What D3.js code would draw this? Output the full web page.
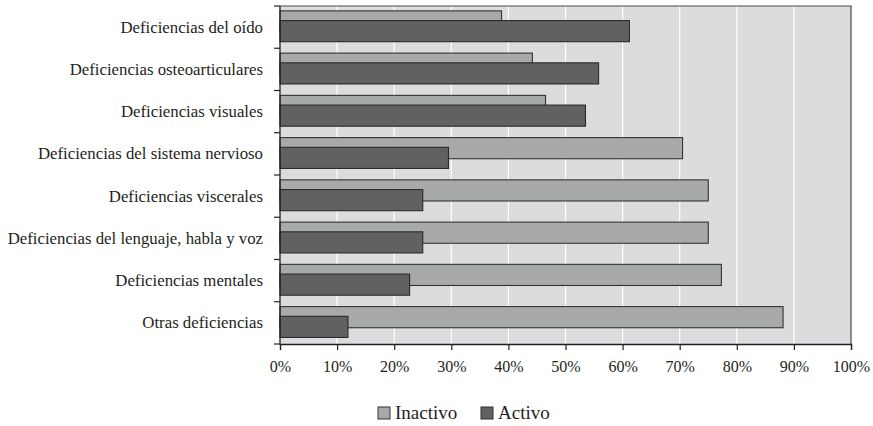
<!DOCTYPE html>
<html><head><meta charset="utf-8">
<script src="https://cdn.jsdelivr.net/npm/d3@7"></script>
<style>body{margin:0;background:#fff}svg{display:block}text{font-family:"Liberation Serif","Times New Roman",serif;fill:#231f20}</style>
</head><body><svg id="c" width="873" height="426"></svg>
<script>
const categories = ["Deficiencias del oído","Deficiencias osteoarticulares","Deficiencias visuales","Deficiencias del sistema nervioso","Deficiencias viscerales","Deficiencias del lenguaje, habla y voz","Deficiencias mentales","Otras deficiencias"];
const inactivo = [38.8, 44.2, 46.5, 70.5, 75.0, 75.0, 77.3, 88.1];
const activo = [61.2, 55.8, 53.5, 29.5, 25.0, 25.0, 22.7, 11.9];
const xTicks = [0,10,20,30,40,50,60,70,80,90,100];
const seriesNames = ["Inactivo","Activo"];

const svg = d3.select("#c");
const m = {l:280, r:851, t:6, b:344};
const x = d3.scaleLinear().domain([0,100]).range([m.l, m.r]);
const y = d3.scaleBand().domain(categories).range([m.t, m.b]);
const colors = {Inactivo:"#a8a9ab", Activo:"#616163"};
const FF = '"Liberation Serif","Times New Roman",serif';

svg.append("rect").attr("x",m.l).attr("y",m.t).attr("width",m.r-m.l).attr("height",m.b-m.t).attr("fill","#dcdcde");
svg.append("g").selectAll("line").data(xTicks.slice(1,-1)).join("line")
  .attr("x1",d=>x(d)).attr("x2",d=>x(d)).attr("y1",m.t).attr("y2",m.b)
  .attr("stroke","#fff").attr("stroke-width",1.2);
svg.append("path").attr("d",`M${m.l},${m.t}H${m.r}V${m.b}`).attr("fill","none").attr("stroke","#4a4a4c").attr("stroke-width",1.2);

const bw = y.bandwidth();
const bh = bw*0.5;
svg.append("g").selectAll("rect").data(categories).join("rect")
  .attr("x",x(0)).attr("y",d=>y(d)+bw*0.115).attr("height",bh)
  .attr("width",(d,i)=>x(inactivo[i])-x(0))
  .attr("fill",colors.Inactivo).attr("stroke","#333335").attr("stroke-width",1.1);
svg.append("g").selectAll("rect").data(categories).join("rect")
  .attr("x",x(0)).attr("y",d=>y(d)+bw*0.345).attr("height",bh)
  .attr("width",(d,i)=>x(activo[i])-x(0))
  .attr("fill",colors.Activo).attr("stroke","#2a2a2c").attr("stroke-width",1.1);

const yAxis = d3.axisLeft(y).tickSize(0).tickPadding(17);
const ya = svg.append("g").attr("transform",`translate(${m.l},0)`).call(yAxis).attr("font-family",FF);
ya.select(".domain").remove();
ya.selectAll("text").attr("font-size",16.8).attr("fill","#231f20").style("font-family",FF);
svg.append("g").selectAll("line").data(d3.range(categories.length+1)).join("line")
  .attr("x1",m.l-6).attr("x2",m.l).attr("y1",i=>m.t+i*bw).attr("y2",i=>m.t+i*bw)
  .attr("stroke","#231f20").attr("stroke-width",1.2);
svg.append("line").attr("x1",m.l).attr("x2",m.l).attr("y1",m.t).attr("y2",m.b+0.5).attr("stroke","#231f20").attr("stroke-width",1.3);

const xAxis = d3.axisBottom(x).tickValues(xTicks).tickFormat(d=>d+"%").tickSize(6).tickPadding(11);
const xa = svg.append("g").attr("transform",`translate(0,${m.b})`).call(xAxis).attr("font-family",FF);
xa.select(".domain").attr("stroke","#231f20").attr("stroke-width",1.3);
xa.selectAll(".tick line").attr("stroke","#231f20").attr("stroke-width",1.2);
xa.selectAll("text").attr("font-size",16).attr("fill","#231f20").style("font-family",FF);

const leg = svg.append("g");
const legX = [378, 481];
seriesNames.forEach((s,i)=>{
  const g = leg.append("g").attr("transform",`translate(${legX[i]},413)`);
  g.append("rect").attr("x",0).attr("y",-6).attr("width",12).attr("height",12).attr("fill",colors[s]).attr("stroke","#333").attr("stroke-width",1);
  g.append("text").attr("x",17).attr("y",6).attr("font-size",19).style("font-family",FF).text(s);
});
</script></body></html>
